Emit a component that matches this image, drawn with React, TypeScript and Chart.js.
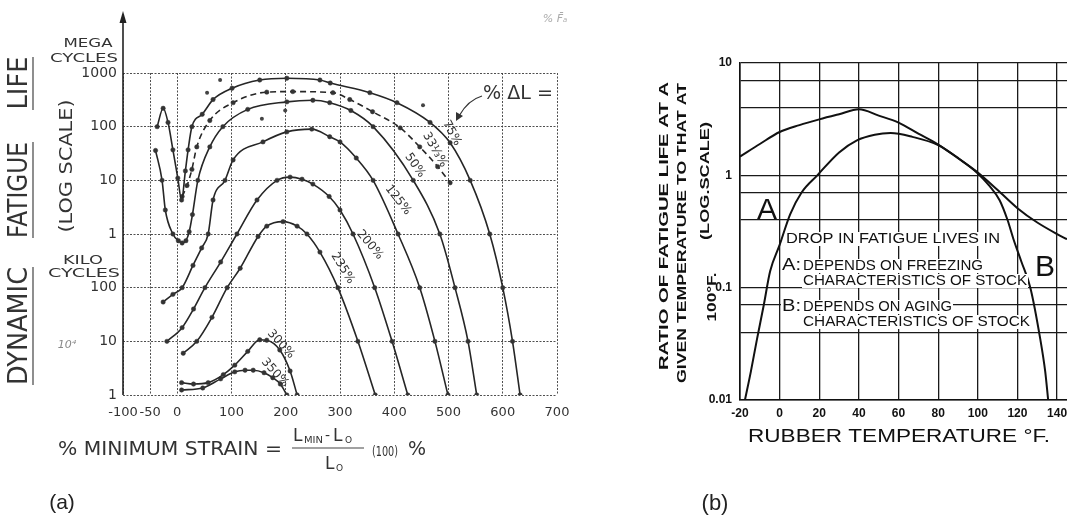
import React, { useEffect, useRef } from 'react';
import { Chart, registerables } from 'chart.js';

Chart.register(...registerables);

// ================= (a) Dynamic fatigue life vs % minimum strain =================
const strainTicksA = [-100, -50, 0, 100, 200, 300, 400, 500, 600, 700];
const strainTickLabelsA = ['-100', '-50', '0', '100', '200', '300', '400', '500', '600', '700'];
const lifeTicksA = [1e3, 1e4, 1e5, 1e6, 1e7, 1e8, 1e9];
const lifeTickLabelsA = ['1', '10', '100', '1', '10', '100', '1000'];

const strain75 = [-37, -26, -17, -8, 1, 8, 15, 20, 27, 46, 66, 101, 152, 202, 263, 282, 355, 405, 466, 503, 540, 576, 600, 618, 632];
const life75 = [1e8, 2.2e8, 1.2e8, 3.7e7, 1.1e7, 4.3e6, 1.5e7, 3.7e7, 1e8, 1.7e8, 3.2e8, 5.2e8, 7.4e8, 8e8, 7.4e8, 6.5e8, 4.3e8, 2.8e8, 1.2e8, 5e7, 1e7, 1e6, 1e5, 1e4, 1e3];

const strain33 = [9, 18, 27, 36, 60, 103, 165, 213, 287, 318, 360, 411, 447, 480, 503];
const life33 = [5e6, 8e6, 1.6e7, 4.2e7, 1.3e8, 2.8e8, 4.4e8, 4.5e8, 4.3e8, 3.2e8, 1.9e8, 9.5e7, 4.2e7, 1.8e7, 9e6];

const strain50 = [-40, -28, -22, -8, 2, 9, 16, 22, 28, 38, 60, 84, 130, 202, 250, 281, 320, 361, 435, 484, 512, 536, 552];
const life50 = [3.6e7, 1e7, 2.8e6, 1e6, 7.5e5, 6.8e5, 7.5e5, 1.1e6, 2.3e6, 1e7, 4.2e7, 1e8, 2.1e8, 2.9e8, 3.1e8, 2.8e8, 2e8, 1e8, 1e7, 1e6, 1e5, 1e4, 1e3];

const strain125 = [-26, -8, 9, 29, 45, 57, 66, 88, 103, 158, 202, 248, 281, 300, 330, 361, 407, 447, 475, 499];
const life125 = [5.4e4, 7.5e4, 1e5, 2.6e5, 5.5e5, 1e6, 4.3e6, 1e7, 2.4e7, 5.2e7, 8e7, 9e7, 6.5e7, 5.2e7, 2.6e7, 1e7, 1e6, 1e5, 1e4, 1e3];

const strain200 = [-19, 9, 30, 51, 80, 110, 147, 184, 208, 230, 250, 280, 300, 324, 364, 396, 425];
const life200 = [1e4, 1.8e4, 4e4, 1e5, 3e5, 1e6, 4.3e6, 1e7, 1.15e7, 1.05e7, 8.5e6, 5e6, 2.8e6, 1e6, 1e5, 1e4, 1e3];

const strain235 = [11, 36, 64, 92, 116, 149, 165, 195, 221, 239, 263, 296, 333, 365];
const life235 = [6e3, 1e4, 2.8e4, 1e5, 2.3e5, 9e5, 1.4e6, 1.7e6, 1.4e6, 1e6, 4.6e5, 1e5, 1e4, 1e3];

const strain300 = [8, 30, 57, 85, 106, 130, 152, 165, 189, 208, 221];
const life300 = [1.7e3, 1.6e3, 1.7e3, 2.4e3, 3.6e3, 6.5e3, 1.07e4, 1.05e4, 6.9e3, 2.8e3, 1e3];

const strain350 = [8, 47, 80, 106, 125, 140, 160, 176, 190, 202];
const life350 = [1.24e3, 1.35e3, 2e3, 2.7e3, 2.9e3, 2.9e3, 2.6e3, 2.1e3, 1.6e3, 1e3];

const strayStrain = [79, 156, 199, 55, 453];
const strayLife = [7.4e8, 1.4e8, 2e8, 4.3e8, 2.5e8];

const curveLabelsA = ['75%', '33⅓%', '50%', '125%', '200%', '235%', '300%', '350%'];
const curveLabelStrainA = [506, 475, 438, 407, 355, 305, 191, 180];
const curveLabelLifeA = [7.6e7, 3.7e7, 1.9e7, 4.3e6, 6.3e5, 2.3e5, 8.9e3, 2.6e3];

// ================= (b) Ratio of fatigue life vs rubber temperature =================
const tempTicksB = [-20, 0, 20, 40, 60, 80, 100, 120, 140];
const ratioGridB = [0.01, 0.04, 0.07, 0.1, 0.4, 0.7, 1, 4, 7, 10];
const ratioLabelsB = ['0.01', '', '', '0.1', '', '', '1', '', '', '10'];

const tempUpper = [-20, -10, 0, 10, 20, 30, 40, 50, 60, 70, 80, 90, 100, 110, 120, 130, 140, 145];
const ratioUpper = [1.47, 1.9, 2.43, 2.8, 3.15, 3.5, 3.87, 3.4, 2.95, 2.35, 1.88, 1.42, 1.06, 0.74, 0.51, 0.38, 0.3, 0.27];

const tempLower = [-17.5, -14.5, -11.4, -8, -4.8, 0, 5.3, 11, 19, 30, 39, 48, 56, 67, 80, 90, 100, 106, 111, 115, 118, 122, 126.5, 131.5, 134, 135.5];
const ratioLower = [0.01, 0.018, 0.035, 0.07, 0.14, 0.24, 0.45, 0.7, 1.0, 1.6, 2.05, 2.3, 2.38, 2.2, 1.86, 1.43, 1.04, 0.8, 0.6, 0.4, 0.27, 0.17, 0.1, 0.035, 0.018, 0.01];

const zip = (xs: number[], ys: number[]) => xs.map((x, i) => ({ x, y: ys[i] }));

function drawFit(ctx: any, text: string, cx: number, cy: number, font: string, width: number | null, angleDeg = 0, color = '#222', align = 'center') {
  ctx.save();
  ctx.translate(cx, cy);
  if (angleDeg) ctx.rotate((angleDeg * Math.PI) / 180);
  ctx.font = font;
  ctx.fillStyle = color;
  ctx.textBaseline = 'middle';
  ctx.textAlign = align;
  if (width) {
    const w = ctx.measureText(text).width;
    if (w > 0) ctx.scale(width / w, 1);
  }
  ctx.fillText(text, 0, 0);
  ctx.restore();
}

function line(ctx: any, x1: number, y1: number, x2: number, y2: number, color = '#333', w = 1.2) {
  ctx.save();
  ctx.strokeStyle = color;
  ctx.lineWidth = w;
  ctx.beginPath();
  ctx.moveTo(x1, y1);
  ctx.lineTo(x2, y2);
  ctx.stroke();
  ctx.restore();
}

const FA = '"DejaVu Sans", sans-serif';
const FB = '"Liberation Sans", Arial, sans-serif';

const decorA = {
  id: 'decorA',
  afterDraw(chart: any) {
    const ctx = chart.ctx;
    const { left, bottom } = chart.chartArea;
    const xs = chart.scales.x;
    const ys = chart.scales.y;
    // y axis with arrow
    line(ctx, left, bottom, left, 20, '#222', 1.6);
    ctx.save();
    ctx.fillStyle = '#222';
    ctx.beginPath();
    ctx.moveTo(left, 11);
    ctx.lineTo(left - 3.5, 23);
    ctx.lineTo(left + 3.5, 23);
    ctx.closePath();
    ctx.fill();
    ctx.restore();

    // y title
    const tf = '26px ' + FA;
    drawFit(ctx, 'LIFE', 20, 83, tf, 53, -90, '#333');
    drawFit(ctx, 'FATIGUE', 20, 190, tf, 96, -90, '#333');
    drawFit(ctx, 'DYNAMIC', 20, 326, tf, 118, -90, '#333');
    line(ctx, 33, 57, 33, 110, '#444', 1.2);
    line(ctx, 33, 142, 33, 238, '#444', 1.2);
    line(ctx, 33, 267, 33, 385, '#444', 1.2);
    drawFit(ctx, '(LOG SCALE)', 68, 166, '17px ' + FA, 133, -90, '#333');

    const sf = '13px ' + FA;
    drawFit(ctx, 'MEGA', 88, 44, sf, 49, 0, '#333');
    drawFit(ctx, 'CYCLES', 84, 59, sf, 68, 0, '#333');
    drawFit(ctx, 'KILO', 83, 261, sf, 40, 0, '#333');
    drawFit(ctx, 'CYCLES', 84, 274, sf, 72, 0, '#333');
    drawFit(ctx, '10⁴', 67, 345, 'italic 11px ' + FA, null, 0, '#888');
    drawFit(ctx, '% F̄ₐ', 555, 19, 'italic 11px ' + FA, null, 0, '#aaa');

    // curve labels
    const angles = [62, 60, 55, 52, 50, 58, 48, 48];
    curveLabelsA.forEach((t, i) => {
      const px = xs.getPixelForValue(curveLabelStrainA[i]);
      const py = ys.getPixelForValue(curveLabelLifeA[i]);
      drawFit(ctx, t, px, py, '12px ' + FA, null, angles[i], '#333');
    });

    // % ΔL = with arrow
    drawFit(ctx, '% ΔL =', 518, 94, '19px ' + FA, 70, 0, '#333');
    ctx.save();
    ctx.strokeStyle = '#333';
    ctx.lineWidth = 1.2;
    ctx.beginPath();
    ctx.moveTo(482, 96);
    ctx.quadraticCurveTo(468, 100, 459, 116);
    ctx.stroke();
    ctx.fillStyle = '#333';
    ctx.beginPath();
    ctx.moveTo(456, 121);
    ctx.lineTo(456, 112);
    ctx.lineTo(463, 116);
    ctx.closePath();
    ctx.fill();
    ctx.restore();

    // x title
    drawFit(ctx, '% MINIMUM STRAIN =', 170, 450, '19px ' + FA, 224, 0, '#333');
    drawFit(ctx, 'L', 293, 437, '17px ' + FA, null, 0, '#333', 'left');
    drawFit(ctx, 'MIN', 304, 441, '9px ' + FA, 19, 0, '#333', 'left');
    drawFit(ctx, '-', 325, 436, '14px ' + FA, null, 0, '#333', 'left');
    drawFit(ctx, 'L', 333, 437, '17px ' + FA, null, 0, '#333', 'left');
    drawFit(ctx, 'O', 345, 441, '9px ' + FA, null, 0, '#333', 'left');
    line(ctx, 292, 448, 364, 448, '#444', 1.2);
    drawFit(ctx, 'L', 325, 465, '17px ' + FA, null, 0, '#333', 'left');
    drawFit(ctx, 'O', 336, 469, '9px ' + FA, null, 0, '#333', 'left');
    drawFit(ctx, '(100)', 385, 452, '14px ' + FA, 26, 0, '#333');
    drawFit(ctx, '%', 417, 450, '19px ' + FA, null, 0, '#333');

    drawFit(ctx, '(a)', 62, 503, '21px ' + FB, null, 0, '#222');
  },
};

const OFF_B = 640;
const decorB = {
  id: 'decorB',
  afterDraw(chart: any) {
    const ctx = chart.ctx;
    const X = (v: number) => v - OFF_B;
    const yf = 'bold 13px ' + FB;
    drawFit(ctx, 'RATIO OF FATIGUE LIFE AT A', X(664), 226, yf, 288, -90, '#111');
    drawFit(ctx, 'GIVEN TEMPERATURE TO THAT AT', X(682), 233, yf, 300, -90, '#111');
    drawFit(ctx, '(LOG.SCALE)', X(705), 181, yf, 118, -90, '#111');
    drawFit(ctx, '100°F.', X(712), 297, yf, 49, -90, '#111');

    drawFit(ctx, 'RUBBER TEMPERATURE °F.', X(899), 437, '18px ' + FB, 302, 0, '#111');
    drawFit(ctx, 'A', X(767), 211, '30px ' + FB, null, 0, '#111');
    drawFit(ctx, 'B', X(1045), 268, '30px ' + FB, null, 0, '#111');

    const box = (text: string, l: number, r: number, cy: number, font: string) => {
      ctx.save();
      ctx.fillStyle = '#fff';
      ctx.fillRect(X(l) - 1, cy - 7, r - l + 2, 14);
      ctx.restore();
      drawFit(ctx, text, X(l), cy, font, r - l, 0, '#111', 'left');
    };
    const bf = '14px ' + FB;
    box('DROP IN FATIGUE LIVES IN', 786, 1000, 239, bf);
    box('A:', 782, 801, 265, '17px ' + FB);
    box('DEPENDS ON FREEZING', 803, 983, 266, bf);
    box('CHARACTERISTICS OF STOCK', 803, 1027, 281, bf);
    box('B:', 782, 801, 306, '17px ' + FB);
    box('DEPENDS ON AGING', 803, 952, 307, bf);
    box('CHARACTERISTICS OF STOCK', 803, 1030, 322, bf);

    drawFit(ctx, '(b)', X(715), 504, '22px ' + FB, null, 0, '#222');
  },
};

function fixScale(w: number | null, h: number | null) {
  return (s: any) => {
    if (w !== null) s.width = w;
    if (h !== null) s.height = h;
    s.paddingTop = 0;
    s.paddingBottom = 0;
    s.paddingLeft = 0;
    s.paddingRight = 0;
  };
}

export default function App() {
  const refA = useRef<HTMLCanvasElement>(null);
  const refB = useRef<HTMLCanvasElement>(null);

  useEffect(() => {
    const curveStyle = (dash: number[] = []) => ({
      showLine: true,
      borderColor: '#262626',
      borderWidth: 1.6,
      borderDash: dash,
      pointRadius: 2.2,
      pointBackgroundColor: '#333',
      pointBorderColor: '#333',
      pointBorderWidth: 0.5,
      cubicInterpolationMode: 'monotone',
      fill: false,
    });

    const chartA = new Chart(refA.current!, {
      type: 'scatter',
      data: {
        datasets: [
          { label: '75%', data: zip(strain75, life75), ...curveStyle() },
          { label: '33⅓%', data: zip(strain33, life33), ...curveStyle([6, 4]) },
          { label: '50%', data: zip(strain50, life50), ...curveStyle() },
          { label: '125%', data: zip(strain125, life125), ...curveStyle() },
          { label: '200%', data: zip(strain200, life200), ...curveStyle() },
          { label: '235%', data: zip(strain235, life235), ...curveStyle() },
          { label: '300%', data: zip(strain300, life300), ...curveStyle() },
          { label: '350%', data: zip(strain350, life350), ...curveStyle() },
          { label: 'stray', data: zip(strayStrain, strayLife), showLine: false, pointRadius: 2, pointBackgroundColor: '#444', pointBorderWidth: 0 },
        ] as any,
      },
      options: {
        animation: false,
        responsive: false,
        events: [],
        layout: { padding: { left: 0, top: 73, right: 83, bottom: 93 } },
        plugins: { legend: { display: false }, tooltip: { enabled: false } },
        scales: {
          x: {
            type: 'linear',
            min: -100,
            max: 700,
            afterBuildTicks: (s: any) => { s.ticks = strainTicksA.map((v) => ({ value: v })); },
            afterFit: fixScale(null, 30),
            ticks: {
              autoSkip: false,
              maxRotation: 0,
              padding: 10,
              color: '#333',
              font: { family: 'DejaVu Sans', size: 13 },
              callback: (_v: any, i: number) => strainTickLabelsA[i],
            },
            grid: { color: 'rgba(60,60,60,0.9)', lineWidth: 1, drawTicks: false },
            border: { display: false, dash: [2, 1.5] },
          },
          y: {
            type: 'logarithmic',
            min: 1e3,
            max: 1e9,
            afterBuildTicks: (s: any) => { s.ticks = lifeTicksA.map((v) => ({ value: v })); },
            afterFit: fixScale(123, null),
            ticks: {
              autoSkip: false,
              padding: 6,
              color: '#333',
              font: { family: 'DejaVu Sans', size: 14 },
              callback: (_v: any, i: number) => lifeTickLabelsA[i],
            },
            grid: { color: 'rgba(60,60,60,0.9)', lineWidth: 1, drawTicks: false },
            border: { display: false, dash: [2, 1.5] },
          },
        },
      } as any,
      plugins: [decorA],
    });

    const curveB = {
      showLine: true,
      borderColor: '#111',
      borderWidth: 2,
      pointRadius: 0,
      cubicInterpolationMode: 'monotone',
      fill: false,
    };

    const chartB = new Chart(refB.current!, {
      type: 'scatter',
      data: {
        datasets: [
          { label: 'upper', data: zip(tempUpper, ratioUpper), ...curveB },
          { label: 'lower', data: zip(tempLower, ratioLower), ...curveB },
        ] as any,
      },
      options: {
        animation: false,
        responsive: false,
        events: [],
        layout: { padding: { left: 0, top: 63, right: 0, bottom: 88 } },
        plugins: { legend: { display: false }, tooltip: { enabled: false } },
        scales: {
          x: {
            type: 'linear',
            min: -20,
            max: 145,
            afterBuildTicks: (s: any) => { s.ticks = tempTicksB.map((v) => ({ value: v })); },
            afterFit: fixScale(null, 30),
            ticks: {
              autoSkip: false,
              maxRotation: 0,
              padding: 6,
              color: '#111',
              font: { family: 'Liberation Sans', size: 12, weight: 'bold' },
              callback: (v: any) => String(v),
            },
            grid: { color: '#1a1a1a', lineWidth: 1.3, drawTicks: false },
            border: { display: true, color: '#111', width: 1.6 },
          },
          y: {
            type: 'logarithmic',
            min: 0.01,
            max: 10,
            afterBuildTicks: (s: any) => { s.ticks = ratioGridB.map((v) => ({ value: v })); },
            afterFit: fixScale(100, null),
            ticks: {
              autoSkip: false,
              padding: 8,
              color: '#111',
              font: { family: 'Liberation Sans', size: 12, weight: 'bold' },
              callback: (_v: any, i: number) => ratioLabelsB[i],
            },
            grid: { color: '#1a1a1a', lineWidth: 1.3, drawTicks: false },
            border: { display: true, color: '#111', width: 1.6 },
          },
        },
      } as any,
      plugins: [decorB],
    });

    return () => {
      chartA.destroy();
      chartB.destroy();
    };
  }, []);

  return (
    <div style={{ position: 'fixed', left: 0, top: 0, width: 1067, height: 518, background: '#fff', overflow: 'hidden' }}>
      <canvas ref={refA} width={640} height={518} style={{ position: 'absolute', left: 0, top: 0, width: 640, height: 518 }} />
      <canvas ref={refB} width={427} height={518} style={{ position: 'absolute', left: OFF_B, top: 0, width: 427, height: 518 }} />
    </div>
  );
}
